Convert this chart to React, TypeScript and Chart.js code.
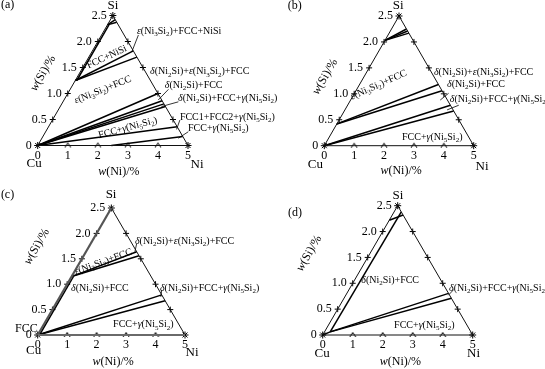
import React, { useEffect, useRef } from 'react';
import { Chart, registerables } from 'chart.js';
Chart.register(...registerables);

const W = 545;
const H = 369;
const FONT = '"Liberation Serif", "Times New Roman", serif';

// ---- axis ticks (mass %) ----
const niTickValues = [1, 2, 3, 4];
const siTickValues = [0.5, 1.0, 1.5, 2.0];
const niTickLabels = ['0', '1', '2', '3', '4', '5'];
const siTickLabels = ['0', '0.5', '1.0', '1.5', '2.0', '2.5'];

// ---- tie lines / phase boundaries: [Ni1, Si1, Ni2, Si2] in w(%) ----
const tieLinesA = [
  [0, 0, 3.0, 1.0],
  [0, 0, 3.28, 0.86],
  [0, 0, 3.4, 0.8],
  [0, 0, 3.5, 0.75],
  [0, 0, 4.28, 0.36],
  [2.45, 0, 4.65, 0.175],
  [0, 1.25, 1.36, 1.82],
  [0, 1.25, 1.6, 1.7],
  [0, 2.32, 0.16, 2.42],
  [0, 2.32, 0.26, 2.37],
  [0.05, 1.25, 0.05, 2.32],
];
const tieLinesB = [
  [0, 0.42, 2.64, 1.18],
  [0, 0.42, 2.88, 1.06],
  [0, 0, 3.44, 0.78],
  [0, 0, 3.66, 0.67],
  [0, 2.03, 0.5, 2.25],
  [0, 2.03, 0.58, 2.21],
  [0, 2.03, 0.66, 2.17],
];
const tieLinesC = [
  [0, 1.15, 1.72, 1.64],
  [0, 1.15, 1.88, 1.56],
  [0, 0, 3.42, 0.79],
  [0, 0, 3.65, 0.675],
  [0.06, 0, 0.06, 1.15],
];
const tieLinesD = [
  [0, 0, 0.19, 0.06],
  [0.19, 0.06, 0.24, 2.38],
  [0.19, 0.06, 3.39, 0.805],
  [0.19, 0.06, 3.58, 0.71],
  [0, 2.22, 0.36, 2.32],
];

// ---- leader lines (plot units: x along base, y in Si units) ----
const leadersA = [
  [3.35, 2.125, 3.13, 1.8],
  [4.35, 1.08, 4.01, 0.875],
  [4.68, 0.84, 4.12, 0.75],
  [4.73, 0.49, 4.62, 0.31],
  [5.01, 0.265, 4.68, 0.14],
];
const leadersB = [
  [4.16, 1.01, 3.88, 0.88],
  [4.5, 0.78, 4.11, 0.69],
];
const leadersC = [
  [3.36, 1.8, 3.3, 1.64],
  [4.21, 0.886, 4.18, 0.75],
];
const leadersD = [[4.37, 0.88, 4.19, 0.77]];

// ---- text labels (plot units) ----
type Lbl = { t: string; x: number; y: number; al: CanvasTextAlign; fs?: number; rot?: number };
const labelsA: Lbl[] = [
  { t: '(a)', x: -1.22, y: 2.7, al: 'left', fs: 12 },
  { t: 'Si', x: 2.5, y: 2.7, al: 'center', fs: 13 },
  { t: 'ε(Ni_3Si_2)+FCC+NiSi', x: 3.3, y: 2.19, al: 'left' },
  { t: 'FCC+NiSi', x: 2.3, y: 1.7, al: 'center', rot: -25 },
  { t: 'δ(Ni_2Si)+ε(Ni_3Si_2)+FCC', x: 3.74, y: 1.42, al: 'left' },
  { t: 'δ(Ni_2Si)+FCC', x: 4.23, y: 1.16, al: 'left' },
  { t: 'δ(Ni_2Si)+FCC+γ(Ni_5Si_2)', x: 4.67, y: 0.91, al: 'left' },
  { t: 'FCC1+FCC2+γ(Ni_5Si_2)', x: 4.73, y: 0.55, al: 'left' },
  { t: 'FCC+γ(Ni_5Si_2)', x: 5.0, y: 0.33, al: 'left' },
  { t: 'ε(Ni_3Si_2)+FCC', x: 2.17, y: 1.07, al: 'center', rot: -22 },
  { t: 'FCC+γ(Ni_5Si_2)', x: 3.0, y: 0.34, al: 'center', rot: -15 },
  { t: 'Cu', x: -0.12, y: -0.34, al: 'center', fs: 13 },
  { t: 'Ni', x: 5.3, y: -0.375, al: 'center', fs: 13 },
  { t: 'w(Ni)/%', x: 2.7, y: -0.51, al: 'center', fs: 12 },
  { t: 'w(Si)/%', x: 0.18, y: 1.39, al: 'center', fs: 12, rot: -60 },
];
const labelsB: Lbl[] = [
  { t: '(b)', x: -1.22, y: 2.69, al: 'left', fs: 12 },
  { t: 'Si', x: 2.47, y: 2.71, al: 'center', fs: 13 },
  { t: 'δ(Ni_2Si)+ε(Ni_3Si_2)+FCC', x: 3.67, y: 1.41, al: 'left' },
  { t: 'δ(Ni_2Si)+FCC', x: 4.11, y: 1.19, al: 'left' },
  { t: 'δ(Ni_2Si)+FCC+γ(Ni_5Si_2)', x: 4.2, y: 0.9, al: 'left' },
  { t: 'FCC+γ(Ni_5Si_2)', x: 2.6, y: 0.17, al: 'left' },
  { t: 'ε(Ni_3Si_2)+FCC', x: 1.82, y: 1.17, al: 'center', rot: -24 },
  { t: 'Cu', x: -0.3, y: -0.37, al: 'center', fs: 13 },
  { t: 'Ni', x: 5.28, y: -0.41, al: 'center', fs: 13 },
  { t: 'w(Ni)/%', x: 2.57, y: -0.485, al: 'center', fs: 12 },
  { t: 'w(Si)/%', x: 0.03, y: 1.33, al: 'center', fs: 12, rot: -60 },
];
const labelsC: Lbl[] = [
  { t: '(c)', x: -1.25, y: 2.76, al: 'left', fs: 12 },
  { t: 'Si', x: 2.49, y: 2.76, al: 'center', fs: 13 },
  { t: 'δ(Ni_2Si)+ε(Ni_3Si_2)+FCC', x: 3.3, y: 1.84, al: 'left' },
  { t: 'ε(Ni_3Si_2)+FCC', x: 2.23, y: 1.44, al: 'center', rot: -20 },
  { t: 'δ(Ni_2Si)+FCC', x: 2.11, y: 0.92, al: 'center' },
  { t: 'δ(Ni_2Si)+FCC+γ(Ni_5Si_2)', x: 4.15, y: 0.92, al: 'left' },
  { t: 'FCC+γ(Ni_5Si_2)', x: 2.56, y: 0.2, al: 'left' },
  { t: 'FCC', x: -0.77, y: 0.13, al: 'left', fs: 12 },
  { t: 'Cu', x: -0.14, y: -0.3, al: 'center', fs: 13 },
  { t: 'Ni', x: 5.24, y: -0.35, al: 'center', fs: 13 },
  { t: 'w(Ni)/%', x: 2.56, y: -0.525, al: 'center', fs: 12 },
  { t: 'w(Si)/%', x: -0.03, y: 1.74, al: 'center', fs: 12, rot: -60 },
];
const labelsD: Lbl[] = [
  { t: '(d)', x: -1.16, y: 2.36, al: 'left', fs: 12 },
  { t: 'Si', x: 2.51, y: 2.69, al: 'center', fs: 13 },
  { t: 'δ(Ni_2Si)+FCC', x: 2.25, y: 1.06, al: 'center' },
  { t: 'δ(Ni_2Si)+FCC+γ(Ni_5Si_2)', x: 4.21, y: 0.9, al: 'left' },
  { t: 'FCC+γ(Ni_5Si_2)', x: 2.38, y: 0.19, al: 'left' },
  { t: 'Cu', x: -0.02, y: -0.35, al: 'center', fs: 13 },
  { t: 'Ni', x: 5.03, y: -0.35, al: 'center', fs: 13 },
  { t: 'w(Ni)/%', x: 2.59, y: -0.52, al: 'center', fs: 12 },
  { t: 'w(Si)/%', x: -0.45, y: 1.58, al: 'center', fs: 12, rot: -60 },
];

// ---- panel frames (layout: pixel placement of each triangle) ----
const frames: Record<string, { cuX: number; cuY: number; niX: number; apexY: number }> = {
  a: { cuX: 37.7, cuY: 145.5, niX: 188, apexY: 15.5 },
  b: { cuX: 324.3, cuY: 145.7, niX: 473.7, apexY: 16 },
  c: { cuX: 37.7, cuY: 335, niX: 185, apexY: 208 },
  d: { cuX: 322.7, cuY: 335, niX: 472.7, apexY: 205.7 },
};

const panels = [
  { id: 'a', ties: tieLinesA, leaders: leadersA, labels: labelsA, grayEdges: false },
  { id: 'b', ties: tieLinesB, leaders: leadersB, labels: labelsB, grayEdges: false },
  { id: 'c', ties: tieLinesC, leaders: leadersC, labels: labelsC, grayEdges: true },
  { id: 'd', ties: tieLinesD, leaders: leadersD, labels: labelsD, grayEdges: false },
];

// composition (Ni, Si) -> plot coordinates
const toPlot = (ni: number, si: number) => ({ x: ni + si, y: si });

function drawRich(ctx: CanvasRenderingContext2D, text: string, x: number, y: number, fs: number, align: CanvasTextAlign, rot: number) {
  const runs: { c: string; sub: boolean; ital: boolean }[] = [];
  for (let i = 0; i < text.length; i++) {
    let c = text[i];
    let sub = false;
    if (c === '_') {
      sub = true;
      i++;
      c = text[i];
    }
    runs.push({ c, sub, ital: 'δεγw'.includes(c) });
  }
  const fontOf = (r: { sub: boolean; ital: boolean }) =>
    `${r.ital ? 'italic ' : ''}${r.sub ? Math.round(fs * 0.68) : fs}px ${FONT}`;
  let total = 0;
  const widths = runs.map((r) => {
    ctx.font = fontOf(r);
    const w = ctx.measureText(r.c).width;
    total += w;
    return w;
  });
  ctx.save();
  ctx.translate(x, y);
  ctx.rotate((rot * Math.PI) / 180);
  ctx.fillStyle = '#000';
  ctx.textBaseline = 'middle';
  ctx.textAlign = 'left';
  let cx = align === 'left' ? 0 : align === 'right' ? -total : -total / 2;
  runs.forEach((r, i) => {
    ctx.font = fontOf(r);
    ctx.fillText(r.c, cx, r.sub ? fs * 0.3 : 0);
    cx += widths[i];
  });
  ctx.restore();
}

const textPlugin = {
  id: 'ternaryText',
  afterDatasetsDraw(chart: any) {
    const ctx = chart.ctx as CanvasRenderingContext2D;
    panels.forEach((p) => {
      const xs = chart.scales['x' + p.id];
      const ys = chart.scales['y' + p.id];
      const px = (v: number) => xs.getPixelForValue(v);
      const py = (v: number) => ys.getPixelForValue(v);
      niTickLabels.forEach((lab, i) => {
        const pt = toPlot(i, 0);
        drawRich(ctx, lab, px(pt.x), py(pt.y) + 10, 12, 'center', 0);
      });
      siTickLabels.forEach((lab, i) => {
        const pt = toPlot(0, i * 0.5);
        drawRich(ctx, lab, px(pt.x) - 6, py(pt.y), 12, 'right', 0);
      });
      p.labels.forEach((l) => {
        drawRich(ctx, l.t, px(l.x), py(l.y), l.fs ?? 10, l.al, l.rot ?? 0);
      });
    });
  },
};

export default function App() {
  const ref = useRef<HTMLCanvasElement | null>(null);
  useEffect(() => {
    document.body.style.margin = '0';
    const caret = document.createElement('canvas');
    caret.width = 8;
    caret.height = 8;
    const cc = caret.getContext('2d')!;
    cc.strokeStyle = '#000';
    cc.lineWidth = 1;
    cc.beginPath();
    cc.moveTo(1, 6);
    cc.lineTo(4, 1.5);
    cc.lineTo(7, 6);
    cc.stroke();

    const scales: any = {};
    const datasets: any[] = [];
    panels.forEach((p) => {
      const f = frames[p.id];
      const ux = (f.niX - f.cuX) / 5;
      const uy = (f.cuY - f.apexY) / 2.5;
      scales['x' + p.id] = { type: 'linear', axis: 'x', position: 'bottom', display: false, min: -f.cuX / ux, max: (W - f.cuX) / ux };
      scales['y' + p.id] = { type: 'linear', axis: 'y', position: 'left', display: false, min: -(H - f.cuY) / uy, max: f.cuY / uy };
      const ax = { xAxisID: 'x' + p.id, yAxisID: 'y' + p.id };
      const line = (data: any[], color: string, width: number) => ({
        ...ax, data, showLine: true, borderColor: color, borderWidth: width, pointRadius: 0, fill: false,
      });
      if (p.grayEdges) {
        datasets.push(line([toPlot(0, 0), toPlot(5, 0)], '#6a6a6a', 2.2));
        datasets.push(line([toPlot(0, 0), toPlot(0, 2.5)], '#555', 2.2));
        datasets.push(line([toPlot(5, 0), toPlot(0, 2.5)], '#111', 1));
      } else {
        datasets.push(line([toPlot(0, 0), toPlot(5, 0), toPlot(0, 2.5), toPlot(0, 0)], '#111', 1));
      }
      p.ties.forEach((t) => datasets.push(line([toPlot(t[0], t[1]), toPlot(t[2], t[3])], '#000', 1.5)));
      p.leaders.forEach((t) => datasets.push(line([{ x: t[0], y: t[1] }, { x: t[2], y: t[3] }], '#000', 0.8)));
      const marks = (data: any[], style: any, r: number) => ({
        ...ax, data, showLine: false, pointStyle: style, pointRadius: r, borderColor: '#000', backgroundColor: '#000', pointBorderWidth: 1,
      });
      datasets.push(marks(siTickValues.map((s) => toPlot(0, s)), 'cross', 3));
      datasets.push(marks(siTickValues.map((s) => toPlot(5 - 2 * s, s)), 'cross', 3));
      datasets.push(marks(niTickValues.map((n) => toPlot(n, 0)), caret, 4));
      datasets.push(marks([toPlot(0, 0), toPlot(5, 0), toPlot(0, 2.5)], 'star', 3.5));
    });

    const chart = new Chart(ref.current!, {
      type: 'scatter',
      data: { datasets },
      options: {
        responsive: false,
        maintainAspectRatio: false,
        animation: false,
        devicePixelRatio: 1,
        events: [],
        layout: { padding: 0, autoPadding: false } as any,
        plugins: { legend: { display: false }, tooltip: { enabled: false }, title: { display: false } },
        scales,
      },
      plugins: [textPlugin],
    } as any);
    return () => chart.destroy();
  }, []);
  return (
    <div style={{ position: 'absolute', left: 0, top: 0, width: W, height: H, background: '#fff' }}>
      <canvas ref={ref} width={W} height={H} style={{ display: 'block', width: W, height: H }} />
    </div>
  );
}
